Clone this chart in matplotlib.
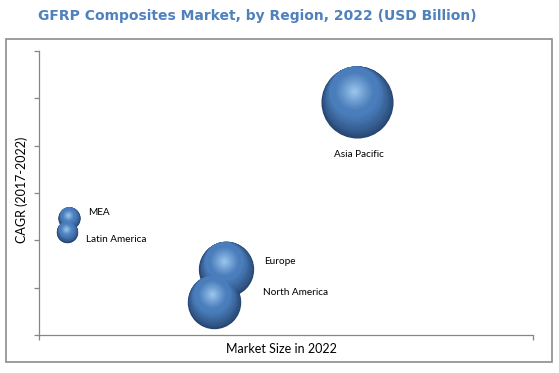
import matplotlib.pyplot as plt
import matplotlib.transforms as mtransforms
from matplotlib.patches import Rectangle
from matplotlib.colors import to_rgb
import numpy as np

# data (arbitrary units - the chart has no tick labels)
regions = ['Asia Pacific', 'Europe', 'North America', 'MEA', 'Latin America']
market_size = [6.44, 3.79, 3.54, 0.61, 0.57]
cagr = [4.92, 1.39, 0.70, 2.47, 2.18]

# label offsets from bubble centre, in pixels (dx, dy, ha)
label_offsets = [(2, -52, 'center'), (38, 8, 'left'), (49, 9, 'left'),
                 (19, 6, 'left'), (19, -8, 'left')]

dpi = 100
fig = plt.figure(figsize=(5.59, 3.73), dpi=dpi)
W, H = 559, 373

# outer frame and title
fig.patches.append(Rectangle((6 / W, 1 - 362 / H), 546 / W, 323 / H,
                             transform=fig.transFigure, fill=False,
                             edgecolor='#8c8c8c', linewidth=1.2))
fig.text(257 / W, 1 - 16 / H, 'GFRP Composites Market, by Region, 2022 (USD Billion)',
         ha='center', va='center', color='#4f81bd', fontsize=10,
         fontweight='bold', family='DejaVu Sans')

ax = fig.add_axes([39 / W, 1 - 335 / H, 494 / W, 284 / H])
ax.set_xlim(0, 10)
ax.set_ylim(0, 6)
ax.set_xticks([0, 10])
ax.set_yticks(np.arange(0, 7, 1))
ax.set_xticklabels([])
ax.set_yticklabels([])
for s in ['top', 'right']:
    ax.spines[s].set_visible(False)
for s in ['left', 'bottom']:
    ax.spines[s].set_color('#868686')
    ax.spines[s].set_linewidth(0.9)
ax.tick_params(direction='out', length=3.5, width=0.9, color='#868686')
ax.patch.set_alpha(0)

# axis titles
fig.text(281 / W, 1 - 349 / H, 'Market Size in 2022', ha='center', va='center',
         fontsize=9, family='Lato')
fig.text(22 / W, 1 - 190 / H, 'CAGR (2017-2022)', ha='center', va='center',
         rotation=90, fontsize=9, family='Lato')

# shaded spheres built from stacked circles
px2pt = 72 / dpi
k = 14.2  # px radius per sqrt(market size)
dark = np.array(to_rgb('#25446e'))
mid = np.array(to_rgb('#4a7dbb'))
light = np.array(to_rgb('#9ec9f0'))
hdir = np.array([-0.26, 0.97])
n_layers = 60
for x, y in zip(market_size, cagr):
    R = k * np.sqrt(x)
    for j in range(n_layers):
        u = 1 - j / n_layers * 0.98          # layer radius / R
        d = min(1 - u, 0.31) * R
        if u > 0.69:
            c = dark + (mid - dark) * ((1 - u) / 0.31) ** 0.8
        elif u > 0.55:
            c = mid
        else:
            c = mid + (light - mid) * ((0.55 - u) / 0.55) ** 1.1
        tr = mtransforms.offset_copy(ax.transData, fig=fig, x=d * hdir[0] * px2pt,
                                     y=d * hdir[1] * px2pt, units='points')
        ax.scatter([x], [y], s=(2 * u * R * px2pt) ** 2, color=c, linewidths=0,
                   transform=tr, zorder=3 + j * 0.01)

for name, x, y, (dx, dy, ha) in zip(regions, market_size, cagr, label_offsets):
    ax.annotate(name, (x, y), xytext=(dx * px2pt, dy * px2pt),
                textcoords='offset points', ha=ha, va='center',
                fontsize=7.2, family='Lato', zorder=10)

fig.savefig('out.png', dpi=dpi)
